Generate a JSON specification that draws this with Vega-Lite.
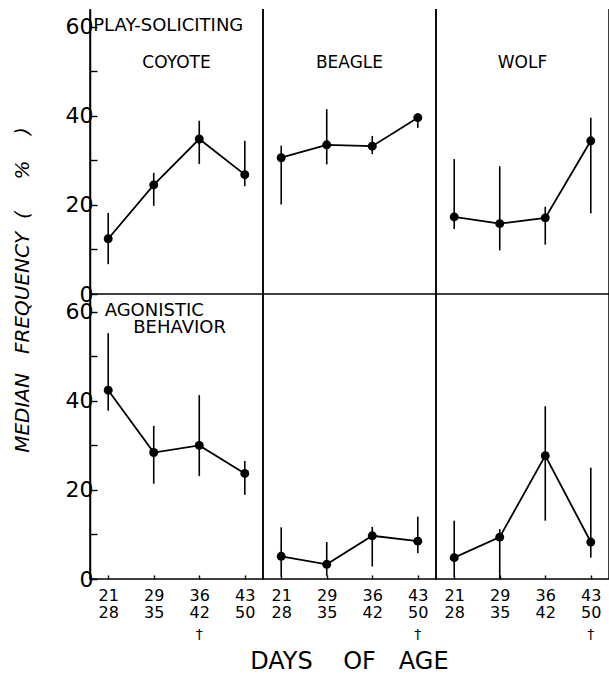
{
  "$schema": "https://vega.github.io/schema/vega-lite/v6.json",
  "background": "white",
  "padding": {"left": 12, "top": 8, "right": 0, "bottom": 0},
  "bounds": "flush",
  "title": {"text": "DAYS\u00a0\u00a0\u00a0\u00a0OF\u00a0\u00a0\u00a0AGE", "orient": "bottom", "anchor": "middle", "frame": "bounds", "fontSize": 24, "fontWeight": "normal", "font": "DejaVu Sans", "color": "black", "offset": 8, "dx": 38},
  "data": {"values": [
    {"kind": "obs", "behavior": "Play-soliciting", "species": "Coyote", "age": "21 28", "median": 12.4, "lo": 6.7, "hi": 18.2},
    {"kind": "obs", "behavior": "Play-soliciting", "species": "Coyote", "age": "29 35", "median": 24.5, "lo": 19.8, "hi": 27.2},
    {"kind": "obs", "behavior": "Play-soliciting", "species": "Coyote", "age": "36 42", "median": 34.8, "lo": 29.2, "hi": 38.9},
    {"kind": "obs", "behavior": "Play-soliciting", "species": "Coyote", "age": "43 50", "median": 26.8, "lo": 24.2, "hi": 34.4},
    {"kind": "obs", "behavior": "Play-soliciting", "species": "Beagle", "age": "21 28", "median": 30.6, "lo": 20.1, "hi": 33.3},
    {"kind": "obs", "behavior": "Play-soliciting", "species": "Beagle", "age": "29 35", "median": 33.5, "lo": 29.1, "hi": 41.5},
    {"kind": "obs", "behavior": "Play-soliciting", "species": "Beagle", "age": "36 42", "median": 33.2, "lo": 31.4, "hi": 35.5},
    {"kind": "obs", "behavior": "Play-soliciting", "species": "Beagle", "age": "43 50", "median": 39.6, "lo": 37.3, "hi": 40.6},
    {"kind": "obs", "behavior": "Play-soliciting", "species": "Wolf", "age": "21 28", "median": 17.3, "lo": 14.6, "hi": 30.3},
    {"kind": "obs", "behavior": "Play-soliciting", "species": "Wolf", "age": "29 35", "median": 15.8, "lo": 9.8, "hi": 28.7},
    {"kind": "obs", "behavior": "Play-soliciting", "species": "Wolf", "age": "36 42", "median": 17.1, "lo": 11.1, "hi": 19.6},
    {"kind": "obs", "behavior": "Play-soliciting", "species": "Wolf", "age": "43 50", "median": 34.4, "lo": 18.1, "hi": 39.6},
    {"kind": "obs", "behavior": "Agonistic behavior", "species": "Coyote", "age": "21 28", "median": 42.4, "lo": 37.8, "hi": 55.2},
    {"kind": "obs", "behavior": "Agonistic behavior", "species": "Coyote", "age": "29 35", "median": 28.4, "lo": 21.4, "hi": 34.4},
    {"kind": "obs", "behavior": "Agonistic behavior", "species": "Coyote", "age": "36 42", "median": 30.0, "lo": 23.1, "hi": 41.3},
    {"kind": "obs", "behavior": "Agonistic behavior", "species": "Coyote", "age": "43 50", "median": 23.7, "lo": 18.9, "hi": 26.5},
    {"kind": "obs", "behavior": "Agonistic behavior", "species": "Beagle", "age": "21 28", "median": 5.1, "lo": 0.5, "hi": 11.6},
    {"kind": "obs", "behavior": "Agonistic behavior", "species": "Beagle", "age": "29 35", "median": 3.3, "lo": 0.7, "hi": 8.3},
    {"kind": "obs", "behavior": "Agonistic behavior", "species": "Beagle", "age": "36 42", "median": 9.7, "lo": 2.8, "hi": 11.7},
    {"kind": "obs", "behavior": "Agonistic behavior", "species": "Beagle", "age": "43 50", "median": 8.5, "lo": 5.8, "hi": 14.0},
    {"kind": "obs", "behavior": "Agonistic behavior", "species": "Wolf", "age": "21 28", "median": 4.8, "lo": 0.5, "hi": 13.1},
    {"kind": "obs", "behavior": "Agonistic behavior", "species": "Wolf", "age": "29 35", "median": 9.4, "lo": 0.2, "hi": 11.2},
    {"kind": "obs", "behavior": "Agonistic behavior", "species": "Wolf", "age": "36 42", "median": 27.7, "lo": 13.1, "hi": 38.8},
    {"kind": "obs", "behavior": "Agonistic behavior", "species": "Wolf", "age": "43 50", "median": 8.3, "lo": 4.8, "hi": 25.0},
    {"kind": "note", "behavior": "Play-soliciting", "species": "Coyote", "note": "PLAY-SOLICITING"},
    {"kind": "note", "behavior": "Agonistic behavior", "species": "Coyote", "note": "\u200b\u00a0\u00a0AGONISTIC\n\u200b\u00a0\u00a0\u00a0\u00a0\u00a0\u00a0\u00a0BEHAVIOR"},
    {"kind": "dagger", "behavior": "Agonistic behavior", "species": "Coyote", "age": "36 42", "note": "\u2020"},
    {"kind": "dagger", "behavior": "Agonistic behavior", "species": "Beagle", "age": "43 50", "note": "\u2020"},
    {"kind": "dagger", "behavior": "Agonistic behavior", "species": "Wolf", "age": "43 50", "note": "\u2020"}
  ]},
  "spacing": 0,
  "facet": {
    "row": {"field": "behavior", "type": "nominal", "sort": ["Play-soliciting", "Agonistic behavior"],
      "header": {"labels": false, "title": "\u200b\u00a0\u00a0\u00a0\u00a0\u00a0\u00a0\u00a0\u00a0\u00a0\u00a0\u00a0MEDIAN\u00a0\u00a0\u00a0FREQUENCY\u00a0\u00a0(\u00a0\u00a0\u00a0\u00a0\u00a0%\u00a0\u00a0\u00a0\u00a0)", "titleFont": "DejaVu Sans", "titleFontStyle": "italic", "titleFontSize": 20, "titleFontWeight": "normal", "titleColor": "black", "titlePadding": 22}},
    "column": {"field": "species", "type": "nominal", "sort": ["Coyote", "Beagle", "Wolf"],
      "header": {"title": null, "labelExpr": "upper(datum.label)", "labelFont": "DejaVu Sans", "labelFontSize": 17, "labelColor": "black", "labelPadding": -63}}
  },
  "spec": {
    "width": 173,
    "height": 285,
    "layer": [
      {
        "transform": [{"filter": "datum.kind === 'obs'"}],
        "mark": {"type": "rule", "color": "black", "strokeWidth": 1.6},
        "encoding": {
          "x": {"field": "age", "type": "nominal", "sort": null,
            "scale": {"type": "point", "padding": 0.4, "domain": ["21 28", "29 35", "36 42", "43 50"]},
            "axis": {"title": null, "labelExpr": "split(datum.label, ' ')", "labelAngle": 0, "tickSize": -4, "domain": false, "grid": false, "labelFontSize": 16, "labelLineHeight": 17, "labelPadding": 12}},
          "y": {"field": "lo", "type": "quantitative",
            "scale": {"domain": [0, 64], "nice": false, "zero": true},
            "axis": {"title": null, "values": [0, 10, 20, 30, 40, 50, 60], "labelExpr": "datum.value % 20 === 0 ? datum.label : ''", "tickSize": -7, "domain": true, "domainColor": "black", "domainWidth": 1.5, "grid": false, "labelFontSize": 22, "labelPadding": 4}},
          "y2": {"field": "hi"}
        }
      },
      {
        "transform": [{"filter": "datum.kind === 'obs'"}],
        "mark": {"type": "line", "color": "black", "strokeWidth": 1.8},
        "encoding": {
          "x": {"field": "age", "type": "nominal", "sort": null},
          "y": {"field": "median", "type": "quantitative"}
        }
      },
      {
        "transform": [{"filter": "datum.kind === 'obs'"}],
        "mark": {"type": "point", "filled": true, "color": "black", "size": 80, "opacity": 1},
        "encoding": {
          "x": {"field": "age", "type": "nominal", "sort": null},
          "y": {"field": "median", "type": "quantitative"}
        }
      },
      {
        "transform": [{"filter": "datum.kind === 'note'"}],
        "mark": {"type": "text", "align": "left", "baseline": "top", "dx": -15, "fontSize": 18, "font": "DejaVu Sans", "color": "black", "lineBreak": "\n", "lineHeight": 17},
        "encoding": {
          "x": {"datum": "21 28", "type": "nominal"},
          "y": {"datum": 62.2, "type": "quantitative"},
          "text": {"field": "note"}
        }
      },
      {
        "transform": [{"filter": "datum.kind === 'dagger'"}],
        "mark": {"type": "text", "fontSize": 14, "font": "DejaVu Sans", "color": "black"},
        "encoding": {
          "x": {"field": "age", "type": "nominal", "sort": null},
          "y": {"datum": -12.5, "type": "quantitative"},
          "text": {"field": "note"}
        }
      }
    ]
  },
  "config": {
    "view": {"stroke": "black", "strokeWidth": 1.5, "strokeDash": [0, 173, 743, 0]},
    "axis": {"labelFont": "DejaVu Sans", "labelColor": "black", "tickColor": "black", "tickWidth": 1.4}
  }
}
